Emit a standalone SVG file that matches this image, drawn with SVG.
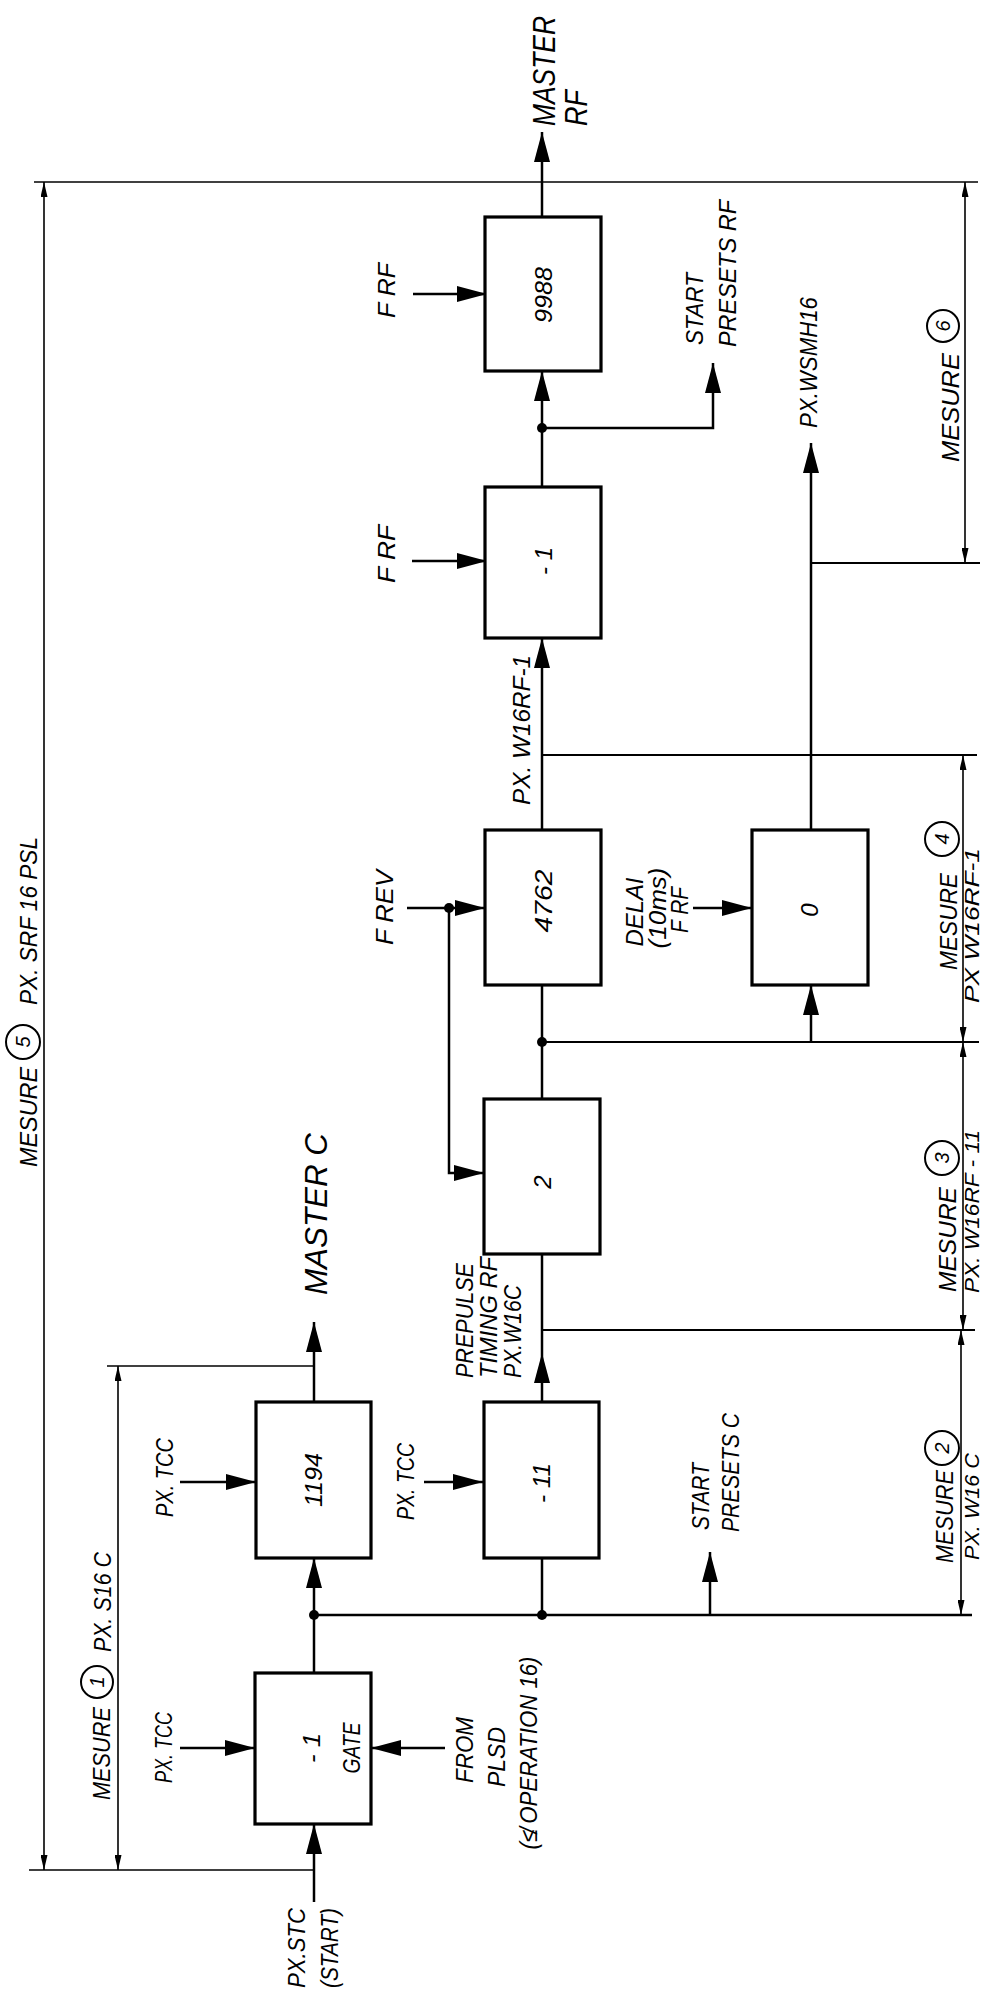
<svg xmlns="http://www.w3.org/2000/svg" width="985" height="1993" viewBox="0 0 985 1993">
<defs>
<marker id="arr" markerUnits="userSpaceOnUse" markerWidth="30" markerHeight="16" viewBox="0 0 30 16" refX="30" refY="8" orient="auto"><path d="M0,0 L30,8 L0,16 z" fill="#000"/></marker>
<marker id="darr" markerUnits="userSpaceOnUse" markerWidth="15" markerHeight="7" viewBox="0 0 15 7" refX="15" refY="3.5" orient="auto-start-reverse"><path d="M0,0 L15,3.5 L0,7 z" fill="#000"/></marker>
</defs>
<style>
.box{fill:#fff;stroke:#000;stroke-width:3.2}
.ln{fill:none;stroke:#000;stroke-width:2.5}
.ext{fill:none;stroke:#000;stroke-width:2}
.dim{fill:none;stroke:#000;stroke-width:1.6}
.a{marker-end:url(#arr)}
.d{marker-start:url(#darr);marker-end:url(#darr)}
text{font-family:"Liberation Sans",Arial,sans-serif;font-style:italic;font-size:24px;fill:#000}
.big{font-size:31px}
.sm{font-size:21px}
.mid{text-anchor:middle}
.num{font-size:20px;text-anchor:middle}
.dot{fill:#000}
.circ{fill:#fff;stroke:#000;stroke-width:2}
</style>
<rect width="985" height="1993" fill="#fff"/>

<g id="connectors">
  <path class="ln a" d="M542,217 V132"/>
  <path class="ln a" d="M542,487 V371"/>
  <path class="ln a" d="M542,428 H713 V363"/>
  <path class="ln a" d="M542,830 V638"/>
  <path class="ln" d="M542,1099 V985"/>
  <path class="ext" d="M542,1042 H979"/>
  <path class="ln a" d="M811,1042 V985"/>
  <path class="ln a" d="M811,830 V443"/>
  <path class="ext" d="M811,563 H980"/>
  <path class="ext" d="M542,755 H977"/>
  <path class="ln a" d="M542,1402 V1353"/>
  <path class="ln" d="M542,1353 V1254"/>
  <path class="ext" d="M542,1330 H975"/>
  <path class="ln" d="M542,1558 V1615"/>
  <path class="ln" d="M314,1615 H972"/>
  <path class="ln a" d="M710,1615 V1552"/>
  <path class="ln a" d="M314,1402 V1322"/>
  <path class="ln a" d="M314,1615 V1558"/>
  <path class="ln" d="M314,1673 V1615"/>
  <path class="ln a" d="M314,1902 V1824"/>
  <path class="ln a" d="M180,1748 H255"/>
  <path class="ln a" d="M180,1482 H256"/>
  <path class="ln a" d="M424,1482 H483"/>
  <path class="ln a" d="M445,1748 H371"/>
  <path class="ln a" d="M413,294 H487"/>
  <path class="ln a" d="M412,561 H487"/>
  <path class="ln a" d="M407,908 H485"/>
  <path class="ln a" d="M449,908 V1173 H484"/>
  <path class="ln a" d="M693,908 H752"/>
  <circle class="dot" cx="542" cy="428" r="5"/>
  <circle class="dot" cx="542" cy="1042" r="5"/>
  <circle class="dot" cx="542" cy="1615" r="5"/>
  <circle class="dot" cx="314" cy="1615" r="5"/>
  <circle class="dot" cx="449" cy="908" r="5"/>
</g>

<g id="dimensions">
  <path class="dim" d="M34,182 H978"/>
  <path class="dim" d="M107,1366 H314"/>
  <path class="dim" d="M29,1870 H314"/>
  <path class="dim d" d="M44,182 V1870"/>
  <path class="dim d" d="M118,1366 V1870"/>
  <path class="dim d" d="M965,182 V563"/>
  <path class="dim d" d="M963,755 V1042"/>
  <path class="dim d" d="M963,1042 V1330"/>
  <path class="dim d" d="M961,1330 V1615"/>
</g>

<g id="mesure1">
  <text transform="rotate(-90 110 1800)" x="110" y="1800" textLength="93" lengthAdjust="spacingAndGlyphs">MESURE</text>
  <circle class="circ" cx="97" cy="1682" r="16"/>
  <text class="num" transform="rotate(-90 104 1682)" x="104" y="1682">1</text>
  <text transform="rotate(-90 111 1652)" x="111" y="1652" textLength="100" lengthAdjust="spacingAndGlyphs">PX. S16 C</text>
</g>
<g id="mesure5">
  <text transform="rotate(-90 37 1167)" x="37" y="1167" textLength="100" lengthAdjust="spacingAndGlyphs">MESURE</text>
  <circle class="circ" cx="23" cy="1042" r="17"/>
  <text class="num" transform="rotate(-90 30 1042)" x="30" y="1042">5</text>
  <text transform="rotate(-90 37 1005)" x="37" y="1005" textLength="168" lengthAdjust="spacingAndGlyphs">PX. SRF 16 PSL</text>
</g>
<g id="mesure6">
  <text transform="rotate(-90 959 462)" x="959" y="462" textLength="109" lengthAdjust="spacingAndGlyphs">MESURE</text>
  <circle class="circ" cx="943" cy="326" r="16"/>
  <text class="num" transform="rotate(-90 950 326)" x="950" y="326">6</text>
</g>
<g id="mesure4">
  <text transform="rotate(-90 957 970)" x="957" y="970" textLength="97" lengthAdjust="spacingAndGlyphs">MESURE</text>
  <circle class="circ" cx="942" cy="839" r="17"/>
  <text class="num" transform="rotate(-90 949 839)" x="949" y="839">4</text>
  <text class="sm" transform="rotate(-90 979 1003)" x="979" y="1003" textLength="155" lengthAdjust="spacingAndGlyphs">PX W16RF-1</text>
</g>
<g id="mesure3">
  <text transform="rotate(-90 956 1292)" x="956" y="1292" textLength="105" lengthAdjust="spacingAndGlyphs">MESURE</text>
  <circle class="circ" cx="942" cy="1158" r="17"/>
  <text class="num" transform="rotate(-90 949 1158)" x="949" y="1158">3</text>
  <text class="sm" transform="rotate(-90 979 1293)" x="979" y="1293" textLength="163" lengthAdjust="spacingAndGlyphs">PX. W16RF - 11</text>
</g>
<g id="mesure2">
  <text transform="rotate(-90 953 1563)" x="953" y="1563" textLength="93" lengthAdjust="spacingAndGlyphs">MESURE</text>
  <circle class="circ" cx="942" cy="1448" r="17"/>
  <text class="num" transform="rotate(-90 949 1448)" x="949" y="1448">2</text>
  <text class="sm" transform="rotate(-90 979 1560)" x="979" y="1560" textLength="107" lengthAdjust="spacingAndGlyphs">PX. W16 C</text>
</g>

<g id="master-rf">
  <text class="big" transform="rotate(-90 555 126)" x="555" y="126" textLength="110" lengthAdjust="spacingAndGlyphs">MASTER</text>
  <text class="big" transform="rotate(-90 587 126)" x="587" y="126" textLength="36" lengthAdjust="spacingAndGlyphs">RF</text>
</g>
<g id="n9988">
  <rect class="box" x="485" y="217" width="116" height="154"/>
  <text class="mid" transform="rotate(-90 552 295)" x="552" y="295" textLength="56" lengthAdjust="spacingAndGlyphs">9988</text>
</g>
<g id="frf1"><text transform="rotate(-90 395 318)" x="395" y="318" textLength="55" lengthAdjust="spacingAndGlyphs">F RF</text></g>
<g id="start-presets-rf">
  <text transform="rotate(-90 703 345)" x="703" y="345" textLength="72" lengthAdjust="spacingAndGlyphs">START</text>
  <text transform="rotate(-90 736 347)" x="736" y="347" textLength="147" lengthAdjust="spacingAndGlyphs">PRESETS RF</text>
</g>
<g id="wsmh"><text transform="rotate(-90 817 428)" x="817" y="428" textLength="131" lengthAdjust="spacingAndGlyphs">PX.WSMH16</text></g>
<g id="nminus1rf">
  <rect class="box" x="485" y="487" width="116" height="151"/>
  <text class="mid" transform="rotate(-90 552 561)" x="552" y="561" textLength="28" lengthAdjust="spacingAndGlyphs">- 1</text>
</g>
<g id="frf2"><text transform="rotate(-90 395 583)" x="395" y="583" textLength="58" lengthAdjust="spacingAndGlyphs">F RF</text></g>
<g id="w16rf1"><text transform="rotate(-90 530 805)" x="530" y="805" textLength="150" lengthAdjust="spacingAndGlyphs">PX. W16RF-1</text></g>
<g id="frev"><text transform="rotate(-90 393 945)" x="393" y="945" textLength="75" lengthAdjust="spacingAndGlyphs">F REV</text></g>
<g id="n4762">
  <rect class="box" x="485" y="830" width="116" height="155"/>
  <text class="mid" transform="rotate(-90 552 901)" x="552" y="901" textLength="63" lengthAdjust="spacingAndGlyphs">4762</text>
</g>
<g id="delai">
  <text class="mid" transform="rotate(-90 643 912)" x="643" y="912" textLength="69" lengthAdjust="spacingAndGlyphs">DELAI</text>
  <text class="mid" transform="rotate(-90 666 908)" x="666" y="908" textLength="81" lengthAdjust="spacingAndGlyphs">(10ms)</text>
  <text class="mid" transform="rotate(-90 688 910)" x="688" y="910" textLength="46" lengthAdjust="spacingAndGlyphs">F RF</text>
</g>
<g id="n0">
  <rect class="box" x="752" y="830" width="116" height="155"/>
  <text class="mid" transform="rotate(-90 818 910)" x="818" y="910">0</text>
</g>
<g id="master-c"><text class="big" transform="rotate(-90 327 1295)" x="327" y="1295" textLength="162" lengthAdjust="spacingAndGlyphs">MASTER C</text></g>
<g id="prepulse">
  <text transform="rotate(-90 473 1378)" x="473" y="1378" textLength="115" lengthAdjust="spacingAndGlyphs">PREPULSE</text>
  <text transform="rotate(-90 497 1378)" x="497" y="1378" textLength="121" lengthAdjust="spacingAndGlyphs">TIMING RF</text>
  <text transform="rotate(-90 521 1378)" x="521" y="1378" textLength="93" lengthAdjust="spacingAndGlyphs">PX.W16C</text>
</g>
<g id="n2">
  <rect class="box" x="484" y="1099" width="116" height="155"/>
  <text class="mid" transform="rotate(-90 551 1182)" x="551" y="1182">2</text>
</g>
<g id="n1194">
  <rect class="box" x="256" y="1402" width="115" height="156"/>
  <text class="mid" transform="rotate(-90 322 1480)" x="322" y="1480" textLength="54" lengthAdjust="spacingAndGlyphs">1194</text>
</g>
<g id="tcc1"><text transform="rotate(-90 173 1517)" x="173" y="1517" textLength="79" lengthAdjust="spacingAndGlyphs">PX. TCC</text></g>
<g id="tcc2"><text transform="rotate(-90 414 1520)" x="414" y="1520" textLength="77" lengthAdjust="spacingAndGlyphs">PX. TCC</text></g>
<g id="nminus11">
  <rect class="box" x="484" y="1402" width="115" height="156"/>
  <text class="mid" transform="rotate(-90 550 1483)" x="550" y="1483" textLength="40" lengthAdjust="spacingAndGlyphs">- 11</text>
</g>
<g id="start-presets-c">
  <text transform="rotate(-90 709 1530)" x="709" y="1530" textLength="67" lengthAdjust="spacingAndGlyphs">START</text>
  <text transform="rotate(-90 739 1532)" x="739" y="1532" textLength="119" lengthAdjust="spacingAndGlyphs">PRESETS C</text>
</g>
<g id="ngate">
  <rect class="box" x="255" y="1673" width="116" height="151"/>
  <text class="mid" transform="rotate(-90 320 1748)" x="320" y="1748" textLength="30" lengthAdjust="spacingAndGlyphs">- 1</text>
  <text class="mid" transform="rotate(-90 360 1748)" x="360" y="1748" textLength="51" lengthAdjust="spacingAndGlyphs">GATE</text>
</g>
<g id="tcc3"><text transform="rotate(-90 172 1783)" x="172" y="1783" textLength="71" lengthAdjust="spacingAndGlyphs">PX. TCC</text></g>
<g id="from-plsd">
  <text class="mid" transform="rotate(-90 473 1750)" x="473" y="1750" textLength="66" lengthAdjust="spacingAndGlyphs">FROM</text>
  <text class="mid" transform="rotate(-90 505 1757)" x="505" y="1757" textLength="60" lengthAdjust="spacingAndGlyphs">PLSD</text>
  <text class="mid" transform="rotate(-90 537 1753)" x="537" y="1753" textLength="193" lengthAdjust="spacingAndGlyphs">(≰ OPERATION 16)</text>
</g>
<g id="pxstc">
  <text transform="rotate(-90 305 1988)" x="305" y="1988" textLength="80" lengthAdjust="spacingAndGlyphs">PX.STC</text>
  <text transform="rotate(-90 338 1988)" x="338" y="1988" textLength="80" lengthAdjust="spacingAndGlyphs">(START)</text>
</g>
</svg>
